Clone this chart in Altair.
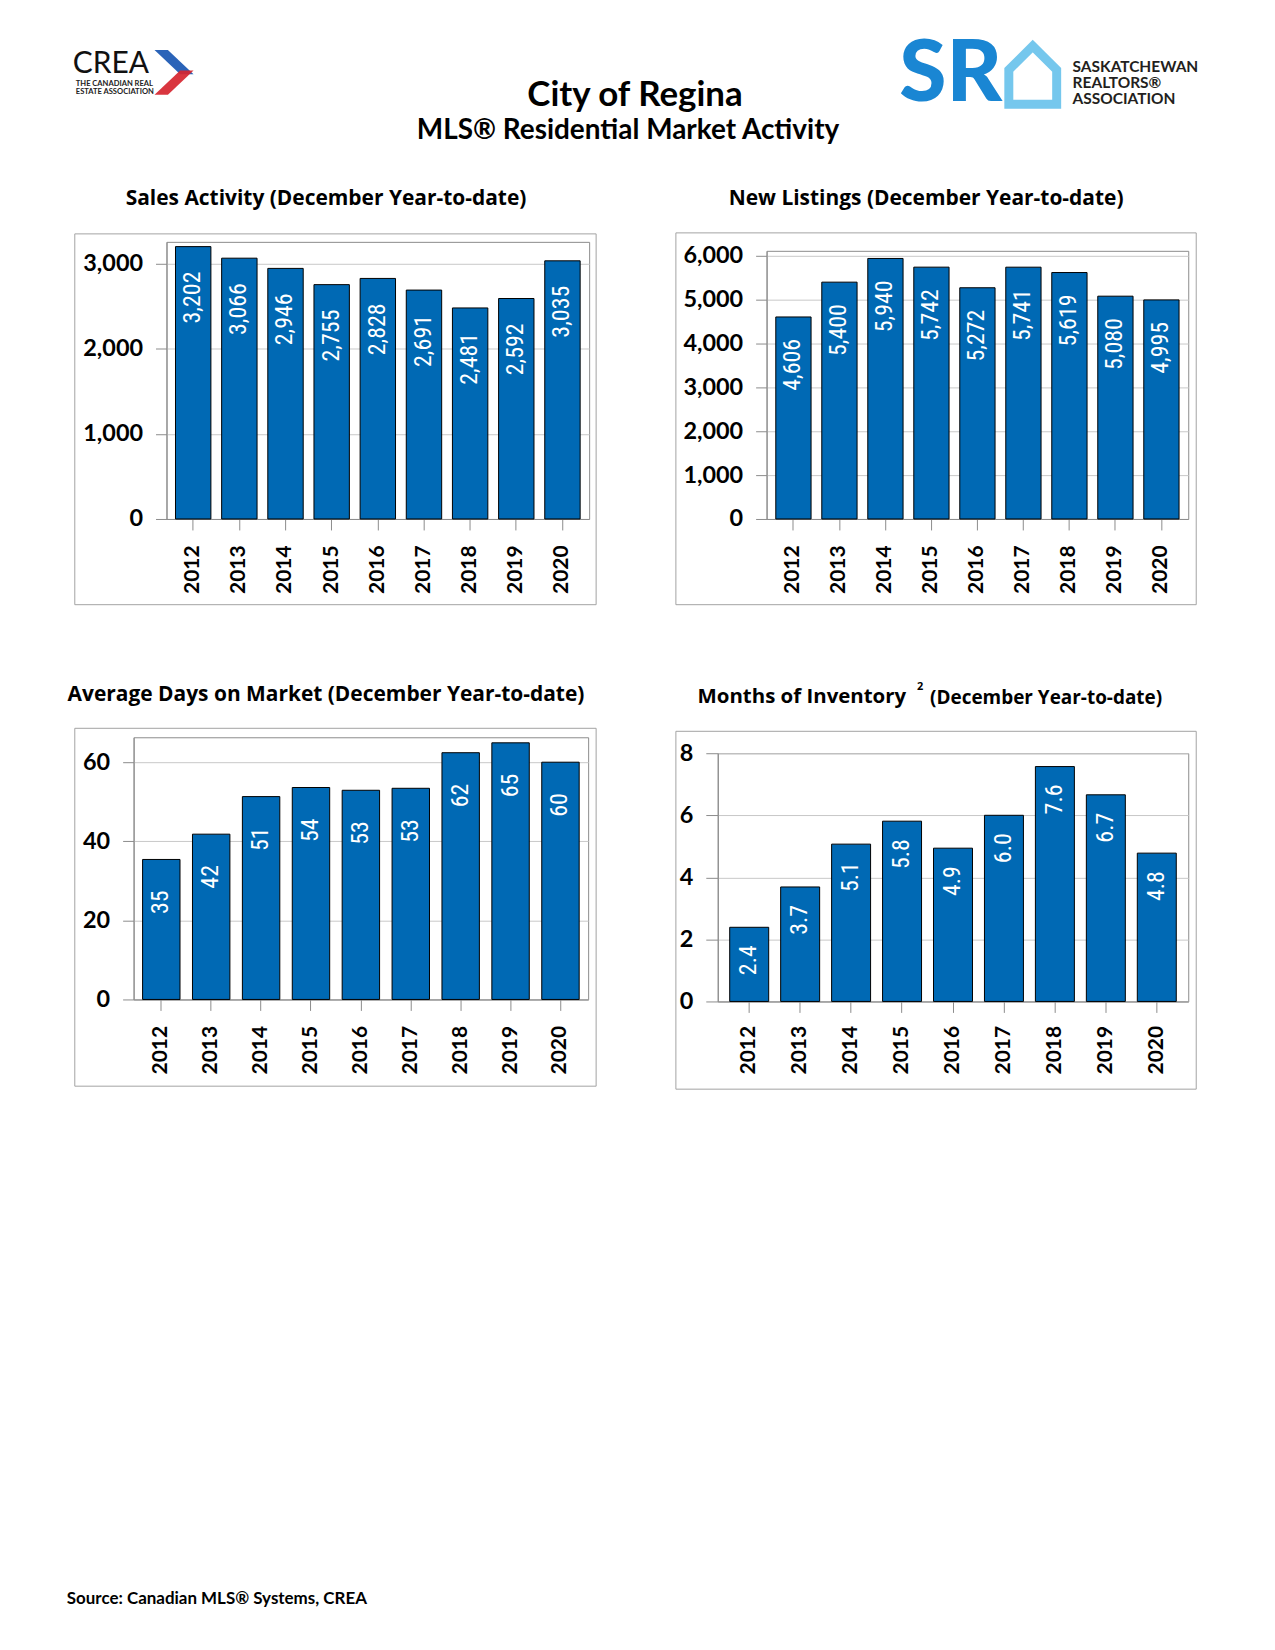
import altair as alt
import pandas as pd

# ---------------- data ----------------
years = ["2012", "2013", "2014", "2015", "2016", "2017", "2018", "2019", "2020"]
sales = [3202, 3066, 2946, 2755, 2828, 2691, 2481, 2592, 3035]
new_listings = [4606, 5400, 5940, 5742, 5272, 5741, 5619, 5080, 4995]
days_on_market = [35.4, 41.8, 51.3, 53.6, 52.9, 53.4, 62.4, 64.9, 60.0]
months_inventory = [2.39, 3.69, 5.07, 5.81, 4.94, 6.0, 7.57, 6.66, 4.78]

sales_ticks = [0, 1000, 2000, 3000]
listing_ticks = [0, 1000, 2000, 3000, 4000, 5000, 6000]
dom_ticks = [0, 20, 40, 60]
moi_ticks = [0, 2, 4, 6, 8]

main_title = "City of Regina"
main_subtitle = "MLS® Residential Market Activity"
source_note = "Source: Canadian MLS® Systems, CREA"

# ---------------- style ----------------
BAR = "#0069B4"
FRAME = "#a3a3a3"
AXIS = "#8c8c8c"
GRID = "#c8c8c8"
FONT = "Lato"
TFONT = "Open Sans"
LABEL_FONT = "Liberation Sans Narrow, Roboto Condensed, Roboto, sans-serif"
NOVIEW = alt.ViewBackground(strokeOpacity=0)


def one():
    return alt.Chart(pd.DataFrame({"k": [0]}))


def txt(text, x, y, size, align="center", weight="bold", color="black", font=FONT):
    return one().mark_text(
        text=text, align=align, baseline="middle", font=font,
        fontWeight=weight, fontSize=size, color=color
    ).encode(x=alt.value(x), y=alt.value(y))


def spacer():
    return one().mark_rect(opacity=0).encode(
        x=alt.value(0), x2=alt.value(1), y=alt.value(0), y2=alt.value(1)
    ).properties(width=1, height=1, view=NOVIEW)


def panel(values, fmt, ymax, yticks, plot, cell, frame, titles, label_dx, pi, po,
          xtick=11, xpad=15, ytick=11, ypad=13):
    px, py, w, h = plot
    df = pd.DataFrame({"year": years, "v": values})
    base = alt.Chart(df)
    x = alt.X(
        "year:N", sort=years,
        scale=alt.Scale(paddingInner=pi, paddingOuter=po),
        axis=alt.Axis(
            title=None, labelAngle=270, labelFont=FONT, labelFontWeight="bold",
            labelFontSize=21, labelColor="black", labelPadding=xpad,
            tickSize=xtick, tickColor=AXIS, domainColor=AXIS, grid=False,
        ),
    )
    y = alt.Y(
        "v:Q",
        scale=alt.Scale(domain=[0, ymax], nice=False, zero=True),
        axis=alt.Axis(
            title=None, values=yticks, format=",.0f", labelFont=FONT,
            labelFontWeight="bold", labelFontSize=23.5, labelColor="black",
            labelPadding=ypad, tickSize=ytick, tickColor=AXIS, domainColor=AXIS,
            grid=True, gridColor=GRID,
        ),
    )
    bars = base.mark_bar(fill=BAR, stroke="black", strokeWidth=1).encode(x=x, y=y)
    labels = base.mark_text(
        angle=270, align="right", baseline="middle", dx=-label_dx,
        color="white", font=LABEL_FONT, fontSize=24,
    ).encode(x=x, y=y, text=alt.Text("v:Q", format=fmt))

    def L(v):
        return v - px

    def T(v):
        return v - py

    cellm = one().mark_rect(opacity=0).encode(
        x=alt.value(L(cell[0])), x2=alt.value(L(cell[2])),
        y=alt.value(T(cell[1])), y2=alt.value(T(cell[3])),
    )
    framem = one().mark_rect(fill="white", fillOpacity=0, stroke=FRAME, strokeWidth=1).encode(
        x=alt.value(L(frame[0])), x2=alt.value(L(frame[2])),
        y=alt.value(T(frame[1])), y2=alt.value(T(frame[3])),
    )
    tlayers = [txt(t, L(tx), T(ty), s, align=a, font=TFONT) for (t, tx, ty, s, a) in titles]
    chart = alt.layer(cellm, framem, bars, labels, *tlayers).properties(width=w, height=h)
    # leading spacer so the panel is placed by its cell bounds
    return alt.vconcat(spacer(), chart, spacing=0)


# page coordinates (approx from reference)
ul = panel(
    sales, ",", 3258, sales_ticks,
    plot=(166, 239, 424, 278), cell=(9, 171, 636, 603), frame=(74, 231, 597, 603),
    titles=[("Sales Activity (December Year-to-date)", 326, 196, 21, "center")],
    label_dx=25, pi=0.233, po=0.195,
)
ur = panel(
    new_listings, ",", 6114, listing_ticks,
    plot=(766, 248, 423, 269), cell=(636, 171, 1267, 603), frame=(675, 230, 1197, 603),
    titles=[("New Listings (December Year-to-date)", 926, 196, 21, "center")],
    label_dx=22, pi=0.233, po=0.2,
)
ll = panel(
    days_on_market, ".0f", 66.3, dom_ticks,
    plot=(133, 734, 456, 263), cell=(9, 604, 636, 1087), frame=(74, 725, 597, 1084),
    titles=[("Average Days on Market (December Year-to-date)", 326, 692, 21, "center")],
    label_dx=31, pi=0.25, po=0.18,
)
lr = panel(
    months_inventory, ".1f", 8, moi_ticks,
    plot=(717, 750, 472, 249), cell=(636, 604, 1267, 1087), frame=(675, 728, 1197, 1087),
    titles=[
        ("Months of Inventory", 906, 694, 20.5, "right"),
        ("2", 920, 684, 11, "center"),
        ("(December Year-to-date)", 930, 695, 19, "left"),
    ],
    label_dx=18, pi=0.235, po=0.235, ytick=12, xpad=13,
)

# ---------------- header ----------------
hx, hy = 8, 8  # local origin of header in page coords


def H(x, y):
    return x - hx, y - hy


header_layers = [
    one().mark_rect(opacity=0).encode(
        x=alt.value(0), x2=alt.value(1259), y=alt.value(0), y2=alt.value(162)
    ),
    txt("CREA", *H(73, 62), 30, align="left", weight="normal", color="#111111"),
    txt("THE CANADIAN REAL", *H(76, 82), 7.6, align="left", color="#222222"),
    txt("ESTATE ASSOCIATION", *H(76, 89.5), 7.6, align="left", color="#222222"),
    one().mark_point(
        shape="M-0.85,-1 L-0.25,-1 L0.9,0.08 L0.3,0.08 Z", filled=True,
        fill="#2a63b8", opacity=1, size=2000,
    ).encode(x=alt.value(H(174, 70)[0]), y=alt.value(H(174, 70)[1])),
    one().mark_point(
        shape="M0.3,-0.08 L0.9,-0.08 L-0.25,1 L-0.85,1 Z", filled=True,
        fill="#d6252f", opacity=0.92, size=2000,
    ).encode(x=alt.value(H(174, 70)[0]), y=alt.value(H(174, 70)[1])),
    txt(main_title, *H(637, 93), 35),
    txt(main_subtitle, *H(630, 129), 28),
    txt("SR", *H(902, 73), 86, align="left", weight=900, color="#1a86d3"),
    one().mark_point(
        shape="M-0.8,1 L-0.8,-0.15 L0,-0.95 L0.8,-0.15 L0.8,1 Z", filled=False,
        stroke="#3cb0e6", strokeWidth=9, size=3600,
    ).encode(x=alt.value(H(1036, 72)[0]), y=alt.value(H(1036, 72)[1])),
    txt("SASKATCHEWAN", *H(1076, 65), 15.5, align="left", color="#231f20"),
    txt("REALTORS®", *H(1076, 81), 15.5, align="left", color="#231f20"),
    txt("ASSOCIATION", *H(1076, 97), 15.5, align="left", color="#231f20"),
]
header = alt.layer(*header_layers).properties(width=1, height=1, view=NOVIEW)

# ---------------- footer ----------------
fx, fy = 8, 1087
footer = alt.layer(
    one().mark_rect(opacity=0).encode(
        x=alt.value(0), x2=alt.value(1259), y=alt.value(0), y2=alt.value(553)
    ),
    txt(source_note, 67 - fx, 1597 - fy, 17, align="left"),
).properties(width=1, height=1, view=NOVIEW)

row1 = alt.hconcat(spacer(), ul, ur, spacing=0)
row2 = alt.hconcat(spacer(), ll, lr, spacing=0)

chart = (
    alt.vconcat(header, row1, row2, footer, spacing=0)
    .properties(padding=0, background="white")
    .configure_view(stroke=AXIS, strokeWidth=1)
)

chart.save("out.html", embed_options={"renderer": "svg", "actions": False})
